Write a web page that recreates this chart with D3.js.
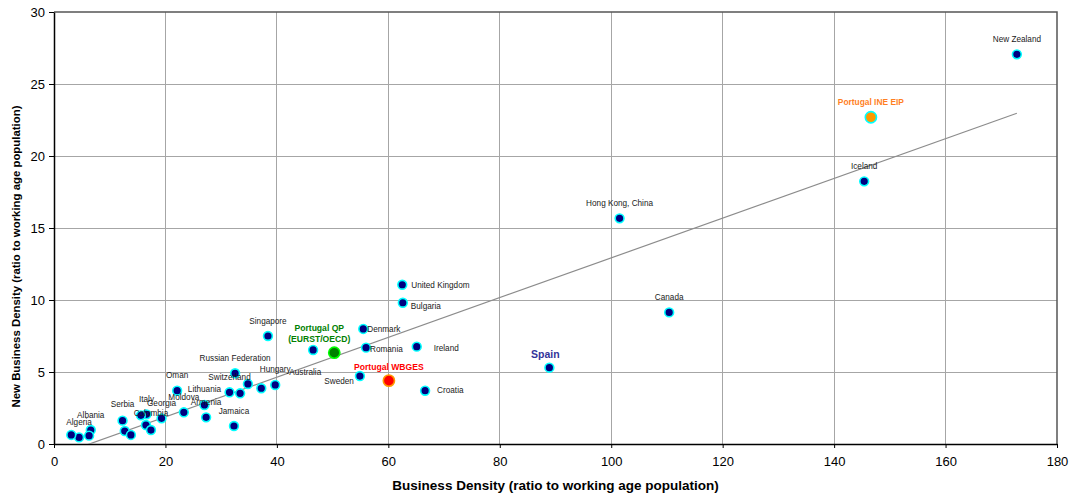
<!DOCTYPE html>
<html><head><meta charset="utf-8">
<script src="https://cdn.jsdelivr.net/npm/d3@7/dist/d3.min.js"></script>
<style>
body{margin:0;background:#fff;}
svg{display:block;font-family:"Liberation Sans",Arial,sans-serif;}
</style></head>
<body><svg id="chart" width="1071" height="497"></svg>
<script>
// ---- data ----
const names = ["Algeria","","Albania","","Serbia","","","Italy","","","Colombia","Georgia","Moldova","Oman",
  "Lithuania","Armenia","Jamaica","Switzerland","","","Russian Federation","Australia","Hungary","Singapore","",
  "Portugal QP\n(EURST/OECD)","Denmark","Romania","Sweden","Portugal WBGES","Croatia","Ireland","United Kingdom",
  "Bulgaria","Spain","Canada","Hong Kong, China","Iceland","Portugal INE EIP","New Zealand"];
const businessDensity = [4.5,3.1,6.6,6.3,12.3,12.7,13.8,16.6,15.6,16.5,17.4,19.3,23.3,22.1,
  27.0,27.3,32.3,31.5,33.4,34.8,32.5,37.2,39.7,38.4,46.5,
  50.3,55.5,56.0,54.9,60.1,66.6,65.1,62.5,
  62.6,88.9,110.4,101.5,145.4,146.6,172.8];
const newBusinessDensity = [0.46,0.63,0.97,0.58,1.62,0.90,0.63,2.06,1.99,1.32,0.97,1.78,2.20,3.70,
  2.71,1.85,1.25,3.59,3.52,4.17,4.91,3.87,4.10,7.50,6.53,
  6.34,7.99,6.69,4.72,4.40,3.70,6.76,11.06,
  9.81,5.30,9.14,15.67,18.24,22.69,27.06];
const xTicks = [0,20,40,60,80,100,120,140,160,180];
const yTicks = [0,5,10,15,20,25,30];
const trendSlope = 0.138, trendIntercept = -0.875;
const xTitle = "Business Density (ratio to working age population)";
const yTitle = "New Business Density (ratio to working age population)";

// ---- styles / layout (not data) ----
const special = {
  "Portugal QP\n(EURST/OECD)": {fill:"#008000", stroke:"#00ff00", r:5.6, color:"#008000", bold:true, size:8.6},
  "Portugal WBGES": {fill:"#ff0000", stroke:"#ff9900", r:5.6, color:"#ff0000", bold:true, size:8.6},
  "Portugal INE EIP": {fill:"#ff9900", stroke:"#00ffff", r:5.6, color:"#ff7f1f", bold:true, size:8.4},
  "Spain": {color:"#333399", bold:true, size:10.5}
};
const labelLayout = {
  "United Kingdom": {dx:9, dy:3, anchor:"start"},
  "Bulgaria": {dx:8, dy:6.5, anchor:"start"},
  "Denmark": {dx:4, dy:3, anchor:"start"},
  "Romania": {dx:4, dy:4, anchor:"start"},
  "Ireland": {dx:17, dy:4, anchor:"start"},
  "Croatia": {dx:12, dy:2, anchor:"start"},
  "Sweden": {dx:-6, dy:8, anchor:"end"},
  "Portugal WBGES": {dx:0, dy:-11},
  "Portugal QP\n(EURST/OECD)": {dx:-15, dy:-22},
  "Spain": {dx:-4, dy:-10},
  "Australia": {dx:44, dy:-13},
  "Colombia": {dy:-14},
  "Serbia": {dy:-14}
};

const W = 1071, H = 497;
const m = {left:54, right:W-1057, top:12, bottom:H-444};
const svg = d3.select("#chart");
const x = d3.scaleLinear().domain([0,180]).range([m.left, W-m.right]);
const y = d3.scaleLinear().domain([0,30]).range([H-m.bottom, m.top]);

// grid
svg.append("g").selectAll("line.vx").data(xTicks.slice(1,-1)).join("line")
  .attr("x1",d=>x(d)).attr("x2",d=>x(d)).attr("y1",y(0)).attr("y2",y(30))
  .attr("stroke","#a6a6a6").attr("stroke-width",1).attr("shape-rendering","crispEdges");
svg.append("g").selectAll("line.hy").data(yTicks.slice(1,-1)).join("line")
  .attr("x1",x(0)).attr("x2",x(180)).attr("y1",d=>y(d)).attr("y2",d=>y(d))
  .attr("stroke","#a6a6a6").attr("stroke-width",1).attr("shape-rendering","crispEdges");
// top/right border
svg.append("path").attr("d",`M${x(0)},${y(30)}H${x(180)}V${y(0)}`)
  .attr("fill","none").attr("stroke","#555").attr("stroke-width",1.5);

// axes
const xAxis = svg.append("g").attr("transform",`translate(0,${y(0)})`)
  .call(d3.axisBottom(x).tickValues(xTicks).tickSize(4).tickPadding(9).tickSizeOuter(0));
const yAxis = svg.append("g").attr("transform",`translate(${x(0)},0)`)
  .call(d3.axisLeft(y).tickValues(yTicks).tickSize(5).tickPadding(4).tickSizeOuter(0));
[xAxis,yAxis].forEach(a=>{
  a.select(".domain").attr("stroke","#000").attr("stroke-width",1.5);
  a.selectAll(".tick line").attr("stroke","#000");
  a.selectAll(".tick text").attr("font-size",13).attr("fill","#000")
    .attr("font-family","'Liberation Sans',Arial,sans-serif");
});

// trend line (clipped to plot)
svg.append("clipPath").attr("id","clip").append("rect")
  .attr("x",x(0)).attr("y",y(30)).attr("width",x(180)-x(0)).attr("height",y(0)-y(30));
const xMin = d3.min(businessDensity), xMax = d3.max(businessDensity);
svg.append("line").attr("clip-path","url(#clip)")
  .attr("x1",x(xMin)).attr("y1",y(trendSlope*xMin+trendIntercept))
  .attr("x2",x(xMax)).attr("y2",y(trendSlope*xMax+trendIntercept))
  .attr("stroke","#8c8c8c").attr("stroke-width",1.2);

// points
const pts = names.map((n,i)=>({name:n, bx:businessDensity[i], ny:newBusinessDensity[i]}));
svg.append("g").selectAll("circle").data(pts).join("circle")
  .attr("cx",d=>x(d.bx)).attr("cy",d=>y(d.ny))
  .attr("r",d=>(special[d.name]&&special[d.name].r)||4.4)
  .attr("fill",d=>(special[d.name]&&special[d.name].fill)||"#000080")
  .attr("stroke",d=>(special[d.name]&&special[d.name].stroke)||"#00ffff")
  .attr("stroke-width",1.6);

// labels
const lg = svg.append("g");
pts.filter(d=>d.name).forEach(d=>{
  const s = special[d.name]||{}, L = labelLayout[d.name]||{};
  const t = lg.append("text")
    .attr("x",x(d.bx)+(L.dx||0)).attr("y",y(d.ny)+(L.dy!==undefined?L.dy:-12.5))
    .attr("text-anchor",L.anchor||"middle")
    .attr("font-size",s.size||8.2).attr("font-weight",s.bold?"bold":"normal")
    .attr("fill",s.color||"#1a1a1a");
  d.name.split("\n").forEach((ln,k)=>{
    t.append("tspan").attr("x",x(d.bx)+(L.dx||0)).attr("dy",k?11:0).text(ln);
  });
});

// titles
svg.append("text").attr("x",(x(0)+x(180))/2).attr("y",490).attr("text-anchor","middle")
  .attr("font-size",13.5).attr("font-weight","bold").text(xTitle);
svg.append("text").attr("transform",`translate(20,256.5) rotate(-90)`)
  .attr("text-anchor","middle").attr("font-size",11.4).attr("font-weight","bold").text(yTitle);
</script></body></html>
